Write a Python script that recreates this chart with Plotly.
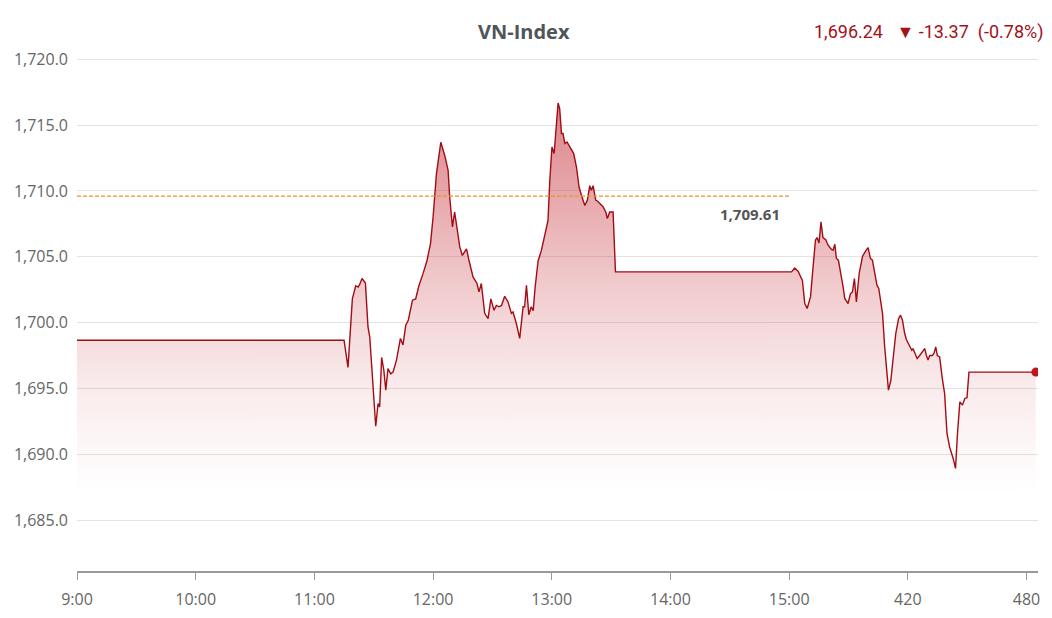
import plotly.graph_objects as go

# minutes since 9:00
minutes = [0, 135.0, 137.0, 139.2, 140.9, 142.1, 142.9, 144.1, 145.8, 147.1, 148.0, 151.0, 152.2, 153.0,
           154.0, 155.1, 156.1, 157.2, 158.6, 159.8, 161.5, 163.5, 164.8, 166.2, 167.5, 169.6, 171.2,
           172.9, 174.9, 176.9, 178.7, 180.0, 181.7, 183.9, 185.9, 187.6, 188.4, 189.8, 190.9, 192.1,
           193.5, 194.8, 196.9, 198.2, 200.2, 202.2, 203.2, 204.4, 206.1, 207.8, 209.2, 210.8, 212.0,
           213.3, 214.6, 216.2, 217.9, 219.6, 220.4, 222.1, 223.8, 225.5, 226.3, 227.2, 228.4, 229.6,
           230.6, 231.6, 233.1, 234.8, 236.5, 238.1, 239.0, 240.1, 241.2, 242.0, 243.2, 244.0, 244.9,
           245.7, 246.6, 247.7, 248.7, 249.9, 251.1, 252.5, 253.8, 255.0, 256.7, 258.0, 259.2, 260.0,
           260.9, 262.2, 263.4, 264.3, 265.9, 267.3, 268.1, 269.3, 271.0, 272.2, 361.2, 362.8, 364.5,
           366.7, 367.9, 369.1, 370.8, 372.1, 373.3, 374.1, 375.1, 376.1, 377.1, 378.5, 379.7, 381.4,
           382.2, 383.1, 383.9, 384.9, 386.1, 387.3, 388.1, 389.8, 391.0, 392.0, 393.0, 394.0, 395.4,
           397.1, 398.7, 399.9, 401.1, 402.1, 403.3, 404.4, 405.3, 406.2, 407.2, 408.3, 409.2, 410.2,
           411.4, 412.5, 413.9, 415.3, 416.3, 417.3, 418.4, 419.3, 420.6, 422.0, 422.6, 423.5, 424.7,
           426.0, 427.4, 428.5, 429.4, 430.2, 431.1, 432.4, 433.2, 434.1, 434.9, 436.1, 437.3, 438.6,
           439.8, 441.1, 442.9, 444.1, 445.1, 446.3, 447.6, 448.8, 449.9, 450.9, 484.7]

index_values = [1698.66, 1698.66, 1696.6, 1701.8, 1702.8, 1702.7, 1702.9, 1703.35, 1703.0, 1699.67, 1698.9,
                1692.13, 1693.85, 1693.6, 1697.35, 1696.4, 1694.87, 1696.5, 1696.1, 1696.26, 1697.15,
                1698.8, 1698.3, 1699.8, 1700.2, 1701.7, 1701.8, 1702.84, 1703.7, 1704.7, 1706.0, 1708.0,
                1711.3, 1713.7, 1712.7, 1711.57, 1709.54, 1707.27, 1708.4, 1707.27, 1705.75, 1705.1,
                1705.6, 1704.7, 1703.47, 1702.97, 1702.33, 1702.97, 1700.7, 1700.3, 1701.8, 1700.94,
                1701.3, 1701.2, 1701.3, 1702.0, 1701.57, 1700.7, 1700.8, 1699.93, 1698.8, 1701.2, 1701.2,
                1702.84, 1700.6, 1701.2, 1700.9, 1702.7, 1704.7, 1705.5, 1706.76, 1707.77, 1710.8,
                1713.34, 1712.84, 1714.6, 1716.68, 1716.26, 1714.36, 1714.36, 1713.6, 1713.72, 1713.47,
                1713.1, 1712.84, 1711.8, 1710.3, 1709.67, 1708.9, 1709.3, 1710.4, 1710.05, 1710.4,
                1709.3, 1709.2, 1709.04, 1708.8, 1708.4, 1707.9, 1708.4, 1708.4, 1703.85, 1703.85,
                1704.15, 1703.9, 1703.2, 1701.45, 1701.07, 1701.95, 1704.23, 1706.26, 1706.46, 1706.05,
                1707.65, 1706.46, 1706.3, 1705.88, 1705.55, 1705.5, 1705.95, 1704.87, 1704.74, 1703.85,
                1702.7, 1701.83, 1701.45, 1702.2, 1702.33, 1703.35, 1701.57, 1703.73, 1705.04, 1705.45,
                1705.7, 1704.87, 1704.74, 1703.73, 1702.84, 1702.6, 1701.7, 1700.7, 1698.15, 1696.4,
                1694.87, 1695.6, 1697.4, 1699.17, 1700.3, 1700.56, 1700.18, 1699.17, 1698.7, 1698.28,
                1697.9, 1698.03, 1697.65, 1697.27, 1697.5, 1697.77, 1698.03, 1697.5, 1697.15, 1697.5,
                1697.5, 1697.65, 1698.15, 1697.5, 1697.4, 1695.88, 1694.6, 1691.58, 1690.56, 1689.68,
                1688.92, 1691.58, 1693.98, 1693.73, 1694.24, 1694.3, 1696.24, 1696.24]

reference_value = 1709.61
reference_end = 360
last_value = 1696.24
change = -13.37
change_pct = -0.78

x_tick_vals = [0, 60, 120, 180, 240, 300, 360, 420, 480]
x_tick_text = ["9:00", "10:00", "11:00", "12:00", "13:00", "14:00", "15:00", "420", "480"]
y_tick_vals = [1685, 1690, 1695, 1700, 1705, 1710, 1715, 1720]

LINE = "#a10d14"
GRAY = "#666666"

fig = go.Figure()

fig.add_trace(go.Scatter(
    x=minutes, y=index_values, mode="lines",
    line=dict(color=LINE, width=1.4),
    fill="tozeroy",
    fillgradient=dict(type="vertical", start=1687, stop=1716.7,
                      colorscale=[[0, "rgba(195,35,45,0.0)"],
                                  [0.10, "rgba(195,35,45,0.03)"],
                                  [0.27, "rgba(195,35,45,0.09)"],
                                  [0.44, "rgba(195,35,45,0.18)"],
                                  [0.61, "rgba(195,35,45,0.29)"],
                                  [1, "rgba(195,35,45,0.56)"]]),
    hoverinfo="skip", showlegend=False,
))

fig.add_trace(go.Scatter(
    x=[0, reference_end], y=[reference_value, reference_value], mode="lines",
    line=dict(color="#e5952a", width=1.4, dash="4px,2px"),
    hoverinfo="skip", showlegend=False,
))

fig.add_trace(go.Scatter(
    x=[minutes[-1]], y=[index_values[-1]], mode="markers",
    marker=dict(color="#c0141c", size=9),
    hoverinfo="skip", showlegend=False,
))

fig.add_annotation(
    x=reference_end, y=reference_value, xref="x", yref="y",
    text="<b>{:,.2f}</b>".format(reference_value),
    showarrow=False, xanchor="right", yanchor="middle", xshift=-7, yshift=-18,
    font=dict(family="Open Sans", size=15, color="#555555"),
)

fig.add_annotation(
    x=1, y=1, xref="paper", yref="paper",
    text="{:,.2f}\u00a0\u00a0\u00a0▼\u00a0{:.2f}\u00a0\u00a0({:.2f}%)".format(last_value, change, change_pct),
    showarrow=False, xanchor="right", yanchor="middle", xshift=7, yshift=26,
    font=dict(family="Roboto", size=18, color="#a3111a"),
)

fig.update_layout(
    width=1044, height=610,
    margin=dict(l=69, r=14, t=50, b=47, autoexpand=False),
    paper_bgcolor="white", plot_bgcolor="white",
    title=dict(text="<b>VN-Index</b>", x=0.494, xref="container", xanchor="center",
               y=1 - 24 / 610, yref="container", yanchor="middle",
               font=dict(family="Open Sans", size=20, color="#50555a")),
    xaxis=dict(range=[0, 485.8], tickvals=x_tick_vals, ticktext=x_tick_text, automargin=False,
               showgrid=False, zeroline=False, showline=True, linecolor="#999999", linewidth=1.5,
               ticks="outside", ticklen=7, tickcolor="#999999", tickwidth=1.2,
               ticklabelstandoff=6,
               tickfont=dict(family="Open Sans", size=16, color=GRAY)),
    yaxis=dict(range=[1681.13, 1720.1], tickvals=y_tick_vals, tickformat=",.1f", automargin=False,
               showgrid=True, gridcolor="#e3e3e3", gridwidth=1, zeroline=False, showline=False,
               ticklabelstandoff=8,
               tickfont=dict(family="Open Sans", size=16, color=GRAY)),
)

fig.write_html("out.html")
